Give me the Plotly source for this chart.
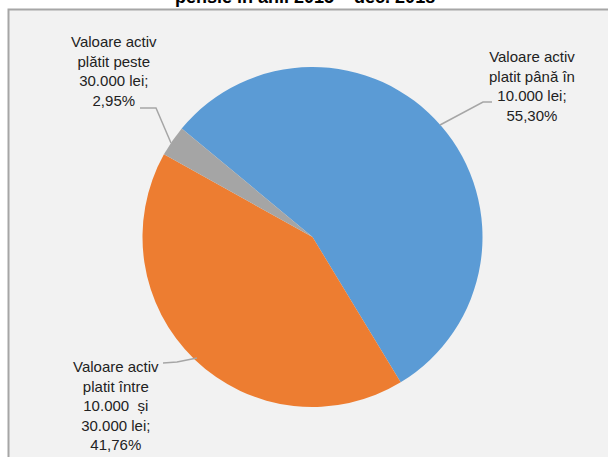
import plotly.graph_objects as go

# Share of pension payouts by amount of the paid-out asset
categories = [
    "Valoare activ platit până în 10.000 lei",
    "Valoare activ platit între 10.000 și 30.000 lei",
    "Valoare activ plătit peste 30.000 lei",
]
shares = [55.30, 41.76, 2.95]
label_texts = [
    "Valoare activ<br>platit până în<br>10.000 lei;<br>55,30%",
    "Valoare activ<br>platit între<br>10.000\u00a0 și<br>30.000 lei;<br>41,76%",
    "Valoare activ<br>plătit peste<br>30.000 lei;<br>2,95%",
]
colors = ["#5b9bd5", "#ed7d31", "#a5a5a5"]
title_text = "pensie în anii 2015 – dec. 2018"

W, H = 608, 457


def px(x):
    return x / W


def py(y):
    return 1 - y / H


cx, cy, r = 312.5, 237, 170

fig = go.Figure()
fig.add_trace(go.Pie(
    labels=categories,
    values=shares,
    sort=False,
    direction="clockwise",
    rotation=309.7,
    marker=dict(colors=colors, line=dict(width=0)),
    textinfo="none",
    hoverinfo="label+percent",
    showlegend=False,
    domain=dict(x=[px(cx - r), px(cx + r)], y=[py(cy + r), py(cy - r)]),
))

# chart area frame
shapes = [dict(
    type="rect", xref="paper", yref="paper",
    x0=px(8.5), x1=px(640), y0=py(480), y1=py(9.5),
    fillcolor="#f2f2f2", line=dict(color="#a6a6a6", width=2), layer="below",
)]

# leader lines (pixel paths from label to slice edge)
leaders = [
    [(440, 125), (483, 102), (492, 102)],
    [(163, 363), (177, 362), (197, 358)],
    [(140, 108), (156, 108), (171, 143)],
]
for pts in leaders:
    path = "M " + " L ".join(f"{px(x)},{py(y)}" for x, y in pts)
    shapes.append(dict(type="path", xref="paper", yref="paper", path=path,
                       line=dict(color="#a6a6a6", width=1.5)))

font = dict(family="Liberation Sans, Arial, sans-serif", size=15, color="#222222")
label_pos = [(532, 86), (116, 405), (114, 71)]
annotations = []
for (x, y), t in zip(label_pos, label_texts):
    annotations.append(dict(
        text=t, x=px(x), y=py(y), xref="paper", yref="paper",
        xanchor="center", yanchor="middle", showarrow=False,
        align="center", font=font,
    ))

annotations.append(dict(
    text=f"<b>{title_text}</b>", x=px(305), y=py(-3), xref="paper", yref="paper",
    xanchor="center", yanchor="middle", showarrow=False,
    font=dict(family="Liberation Sans, Arial, sans-serif", size=18, color="#000000"),
))

fig.update_layout(
    width=W, height=H,
    margin=dict(l=0, r=0, t=0, b=0),
    paper_bgcolor="#ffffff",
    shapes=shapes,
    annotations=annotations,
)

fig.write_html("out.html")
